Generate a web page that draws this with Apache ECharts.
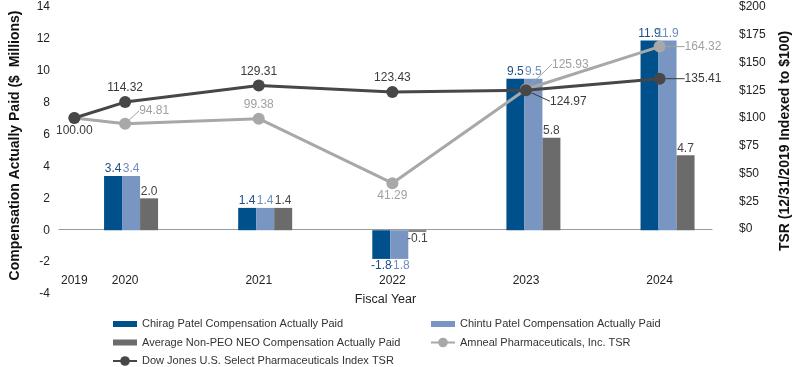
<!DOCTYPE html>
<html>
<head>
<meta charset="utf-8">
<script src="https://cdn.jsdelivr.net/npm/echarts@6/dist/echarts.min.js"></script>
<style>html,body{margin:0;padding:0;background:#fff}#c{width:800px;height:367px}</style>
</head>
<body>
<div id="c"></div>
<script>
// ---- data ----
const years = ['2019', '2020', '2021', '2022', '2023', '2024'];
const barYears = ['2020', '2021', '2022', '2023', '2024'];
const chiragCAP = [3.4, 1.4, -1.8, 9.5, 11.9];
const chintuCAP = [3.4, 1.4, -1.8, 9.5, 11.9];
const avgNeoCAP = [2.0, 1.4, -0.1, 5.8, 4.7];
const amnealTSR = [100.00, 94.81, 99.38, 41.29, 125.93, 164.32];
const dowJonesTSR = [100.00, 114.32, 129.31, 123.43, 124.97, 135.41];
const leftTicks = [-4, -2, 0, 2, 4, 6, 8, 10, 12, 14];
const rightTicks = [0, 25, 50, 75, 100, 125, 150, 175, 200];

// ---- layout helpers ----
const BASE_POS = 2019.62; // horizontal slot of the 2019 base point
const xPos = (y) => (y === '2019' ? BASE_POS : Number(y));
const FONT = '"Liberation Sans", Arial, Helvetica, sans-serif';
const NARROW = '"Liberation Sans Narrow", "Liberation Sans", Arial, sans-serif';
const C_DARK = '#00508C', C_LIGHT = '#7896C1', C_GRAY = '#6B6B6B';
const C_DOW = '#474747', C_AMN = '#A8A8A8';

const barPath = 'path://M0,0h24v6h-24z';

function barSeries(name, vals, color, labelColor) {
  return {
    name, type: 'bar', xAxisIndex: 0, yAxisIndex: 0,
    barWidth: 18, barGap: '0%',
    itemStyle: { color },
    data: vals.map(v => ({
      value: v,
      label: { position: v < 0 ? 'bottom' : 'top', fontFamily: Math.abs(v) >= 10 ? NARROW : FONT }
    })),
    label: { show: true, distance: 1, color: labelColor, fontSize: 12, fontFamily: FONT,
      formatter: p => p.value.toFixed(1) }
  };
}

// label placement for line points: [position, dx, dy, guide]
const dowPlace = [['bottom',0,0,false],['top',0,0,false],['top',0,0,false],['top',0,0,false],['right',16,11,true],['right',17,0,true]];
const amnPlace = [null,['right',6,-13,true],['top',0,0,false],['bottom',0,0,false],['right',18,-25,true],['right',17,0,true]];

function lineSeries(name, vals, color, labelColor, place, z) {
  return {
    name, type: 'line', xAxisIndex: 1, yAxisIndex: 1, z,
    symbol: 'circle', symbolSize: 12,
    lineStyle: { color, width: 3 },
    itemStyle: { color },
    data: vals.map((v, i) => {
      const pl = place[i];
      return {
        value: [xPos(years[i]), v],
        label: pl ? { show: true, position: pl[0], distance: pl[0] === 'bottom' ? 1 : 2 } : { show: false },
        labelLine: { show: pl ? pl[3] : false }
      };
    }),
    label: { show: true, color: labelColor, fontSize: 12, fontFamily: FONT,
      formatter: p => p.value[1].toFixed(2) },
    labelLine: { lineStyle: { color: labelColor, width: 1 }, length2: 0 },
    labelLayout: p => {
      const pl = place[p.dataIndex];
      return pl ? { dx: pl[1], dy: pl[2] } : {};
    }
  };
}

const legendCommon = {
  orient: 'vertical', padding: 0, itemGap: 6.5, itemWidth: 24, itemHeight: 12,
  textStyle: { color: '#333', fontSize: 11, lineHeight: 12, fontFamily: FONT }
};

const chart = echarts.init(document.getElementById('c'), null, { renderer: 'canvas' });
chart.setOption({
  animation: false,
  textStyle: { fontFamily: FONT },
  grid: [
    { left: 58.4, right: 65.4, top: 7, bottom: 73 },
    { left: 59, right: 80, top: 7, bottom: 138 }
  ],
  xAxis: [
    { type: 'category', gridIndex: 0, data: barYears, boundaryGap: true,
      axisLine: { show: false }, axisTick: { show: false }, axisLabel: { show: false } },
    { type: 'value', gridIndex: 1, min: 2019.505, max: 2024.392,
      axisLine: { show: true, onZero: false, lineStyle: { color: '#9A9A9A', width: 1 } },
      axisTick: { show: false }, splitLine: { show: false },
      axisLabel: { color: '#222', fontSize: 12, margin: 46, fontFamily: FONT,
        customValues: years.map(xPos),
        formatter: v => years.find(y => Math.abs(xPos(y) - v) < 1e-6) || '' },
      name: 'Fiscal Year', nameLocation: 'middle', nameGap: 64,
      nameTextStyle: { color: '#222', fontSize: 12.5, fontFamily: FONT } }
  ],
  yAxis: [
    { type: 'value', gridIndex: 0, min: leftTicks[0], max: leftTicks[leftTicks.length - 1], interval: 2,
      axisLine: { show: false }, axisTick: { show: false }, splitLine: { show: false },
      axisLabel: { color: '#222', fontSize: 12, margin: 14, fontFamily: FONT },
      name: 'Compensation Actually Paid ($  Millions)', nameLocation: 'middle', nameRotate: 90, nameGap: 42,
      nameTextStyle: { color: '#111', fontSize: 14, fontWeight: 'bold', fontFamily: FONT, padding: [0, 0, 0, 10] } },
    { type: 'value', gridIndex: 1, position: 'right', min: rightTicks[0], max: rightTicks[rightTicks.length - 1], interval: 25,
      axisLine: { show: false }, axisTick: { show: false }, splitLine: { show: false },
      axisLabel: { color: '#222', fontSize: 12, margin: 27, fontFamily: FONT, formatter: v => '$' + v },
      name: 'TSR (12/31/2019 Indexed to $100)', nameLocation: 'middle', nameRotate: 90, nameGap: 66,
      nameTextStyle: { color: '#111', fontSize: 14, fontWeight: 'bold', fontFamily: FONT, padding: [0, 46, 0, 0] } }
  ],
  legend: [
    Object.assign({ left: 112, top: 318,
      data: [
        { name: 'Chirag Patel Compensation Actually Paid', icon: barPath },
        { name: 'Average Non-PEO NEO Compensation Actually Paid', icon: barPath },
        { name: 'Dow Jones U.S. Select Pharmaceuticals Index TSR' }
      ] }, legendCommon),
    Object.assign({ left: 430, top: 318,
      data: [
        { name: 'Chintu Patel Compensation Actually Paid', icon: barPath },
        { name: 'Amneal Pharmaceuticals, Inc. TSR' }
      ] }, legendCommon)
  ],
  series: [
    barSeries('Chirag Patel Compensation Actually Paid', chiragCAP, C_DARK, '#1B4F85'),
    barSeries('Chintu Patel Compensation Actually Paid', chintuCAP, C_LIGHT, '#6E8EBE'),
    barSeries('Average Non-PEO NEO Compensation Actually Paid', avgNeoCAP, C_GRAY, '#444'),
    lineSeries('Amneal Pharmaceuticals, Inc. TSR', amnealTSR, C_AMN, '#A0A0A0', amnPlace, 3),
    lineSeries('Dow Jones U.S. Select Pharmaceuticals Index TSR', dowJonesTSR, C_DOW, '#3A3A3A', dowPlace, 4)
  ]
});
</script>
</body>
</html>
